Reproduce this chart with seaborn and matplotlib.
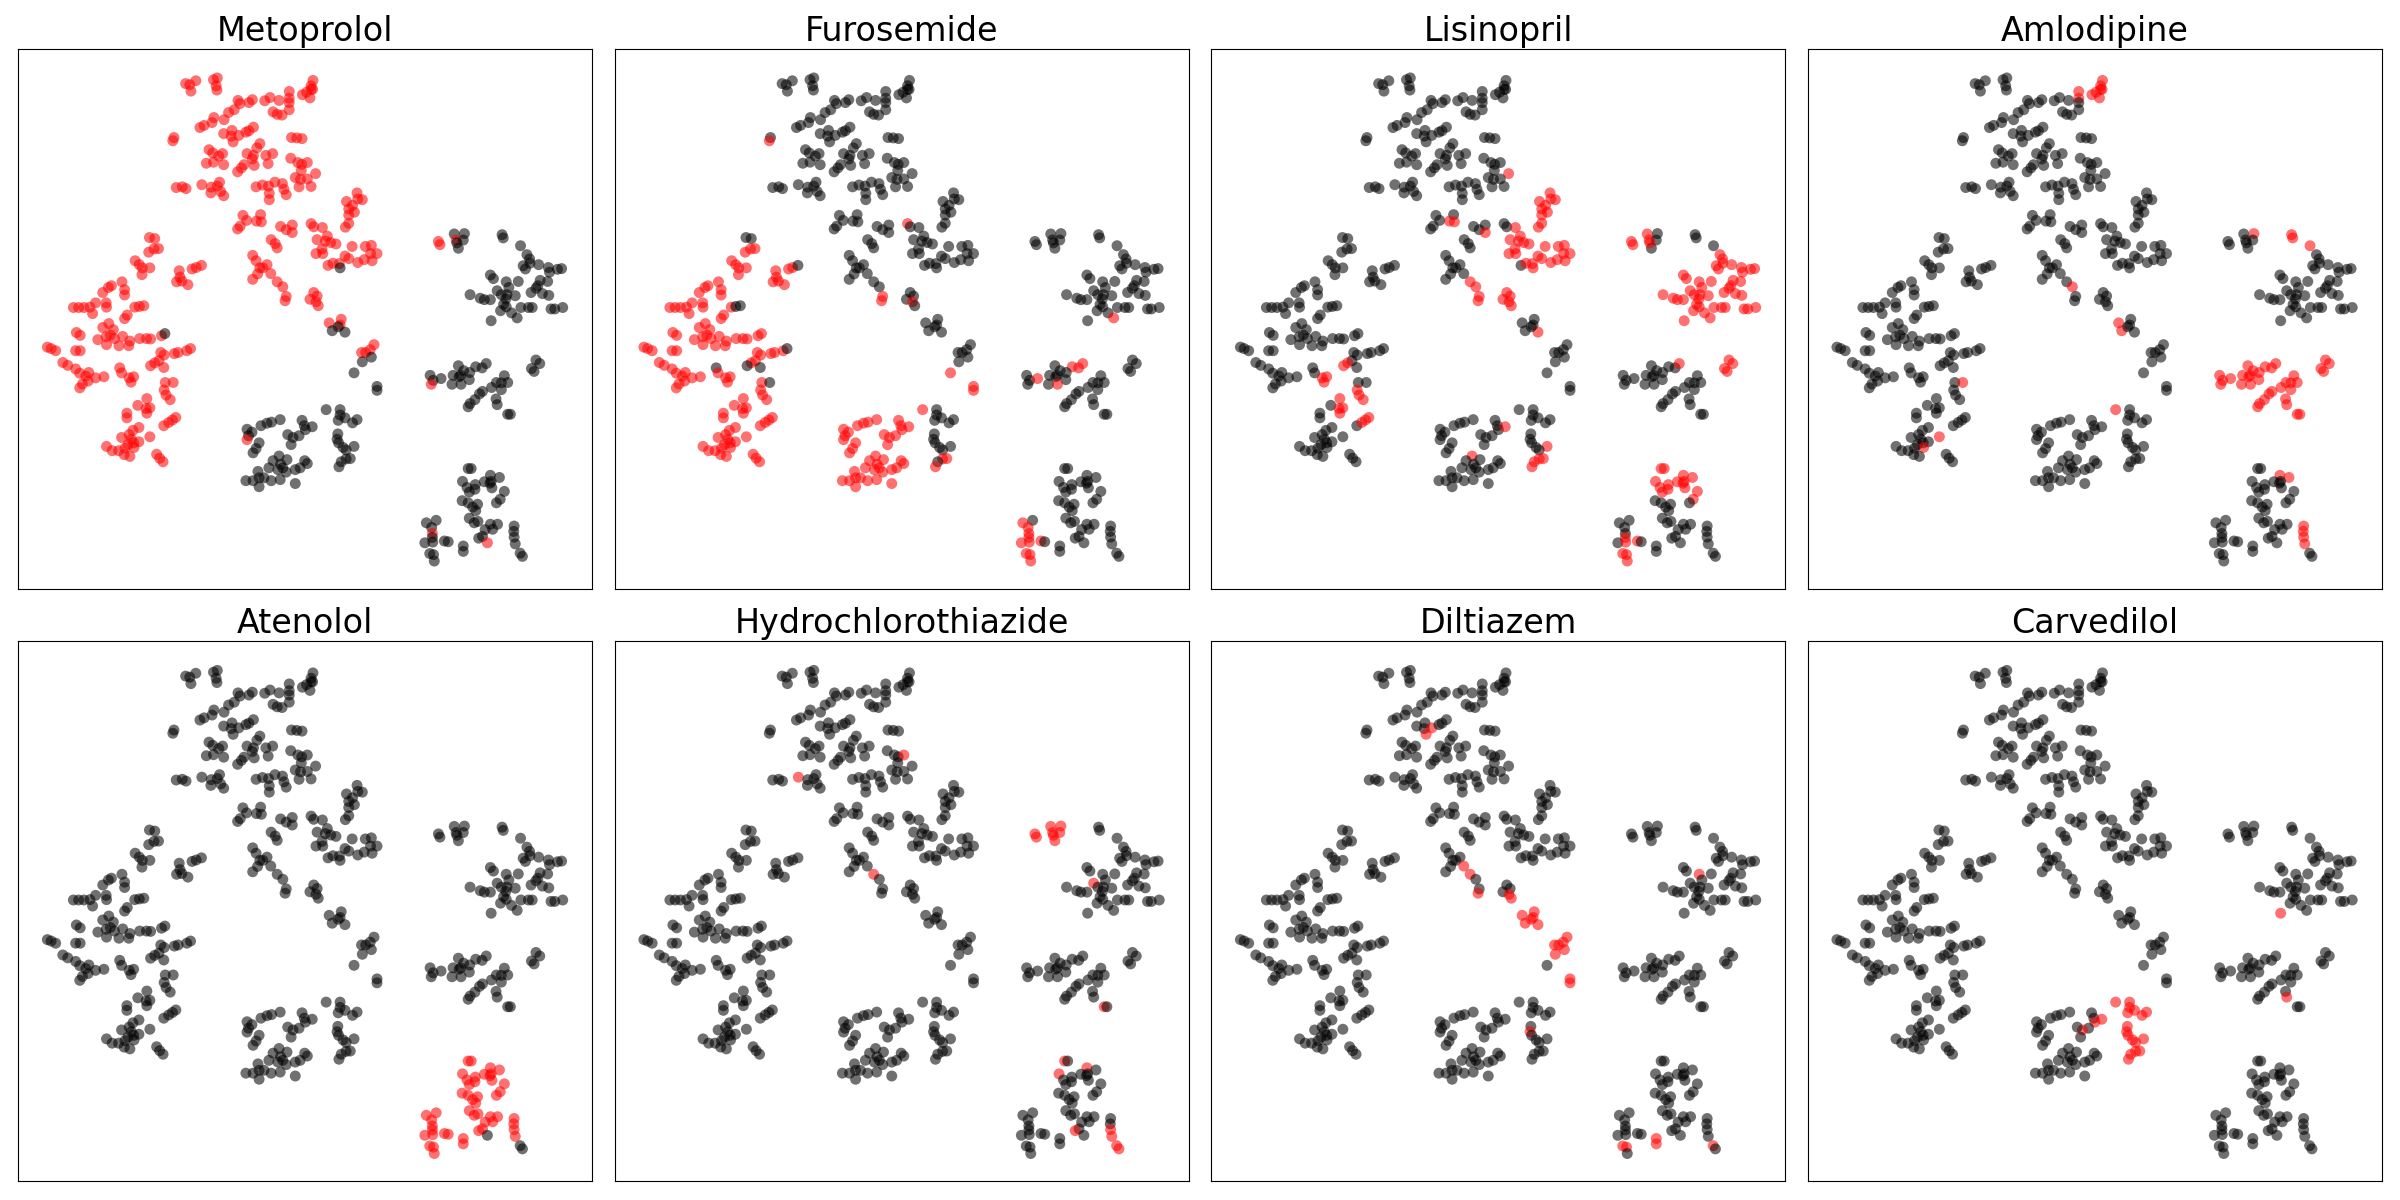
import matplotlib
matplotlib.use("Agg")
import matplotlib.pyplot as plt
import numpy as np
import pandas as pd
import seaborn as sns

drugs = ["Metoprolol", "Furosemide", "Lisinopril", "Amlodipine",
         "Atenolol", "Hydrochlorothiazide", "Diltiazem", "Carvedilol"]

cluster_a = [(460,124),(471,127),(487,116),(474,145),(534,113),(544,108),(541,130),(543,142),
 (599,171),(604,180),(628,177),(637,169),(670,172),(684,163),(708,171),(735,146),(735,165),(735,177),(735,197),(716,212),(703,210),(692,203),
 (770,155),(781,148),(793,140),(798,115),(793,130),(797,140),(790,164),
 (589,197),(574,205),(562,225),(535,219),(530,233),(509,241),(498,247),
 (561,264),(583,255),(581,271),(586,287),(601,269),(620,260),(628,256),(640,246),
 (429,275),(426,284),(741,275),(755,276),(769,278),
 (657,292),(649,304),(522,309),(532,318),(558,320),(548,327),(515,347),(534,344),(561,351),
 (623,320),(640,325),(637,335),(642,353),(673,325),(691,320),(679,348),(615,351),(608,360),(598,371),
 (739,333),(758,345),(768,350),(783,345),(767,367),(805,376),(783,391),(751,387),(765,392),(761,413),(793,412),
 (435,415),(451,413),(461,418),(503,407),(528,414),(550,400),(544,411),(527,430),(553,426),(561,438),
 (647,413),(664,408),(680,411),(697,400),(717,404),(721,420),(727,435),(682,431),(682,449)]

cluster_b = [(612,493),(622,507),(605,523),(598,531),(659,491),(648,509),(661,511),(712,524),(727,533),(743,520),(743,541),
 (793,516),(800,525),(823,527),(809,561),(836,551),(831,565),(845,569),(859,573),(902,580),(937,580),(953,577),(951,600),(968,600),(955,620),(934,617),(917,625),
 (806,600),(824,600),(822,587),(838,633),(851,627),(868,628),(870,640),(883,607),(893,614),
 (915,430),(929,449),(917,447),(887,454),(903,465),(893,475),(908,484),(893,492),(893,515),(884,526)]

cluster_c = [(687,561),(698,572),(703,584),(638,605),(647,620),(657,640),(665,640),(676,631),(651,657),(638,672),(686,656),(703,679),(718,693),
 (727,720),(724,732),(800,709),(809,719),(790,728),(806,735),(812,746),
 (841,794),(873,784),(870,800),(849,816),(883,820),(865,805),
 (960,855),(938,877),(927,877),(950,869),(953,890),(929,903),(907,934),(968,972),(968,983)]

cluster_d = [(364,555),(378,558),(388,586),(376,587),(362,596),(326,620),(337,631),(345,640),(365,640),(344,659),
 (443,648),(445,666),(436,679),(450,677),(466,687),(477,643),(488,639),(502,633),
 (291,679),(298,701),(298,716),(263,690),(255,695),(240,709),
 (221,738),(249,738),(250,750),(206,750),(190,751),(176,751),(162,751),(213,768),
 (325,750),(337,748),(349,746),(305,772),(298,782),
 (256,796),(240,807),(268,813),(170,821),(180,829),(227,841),(249,833),(260,828),(271,838),(250,855),(283,858),(293,832),(312,845),(309,858),(338,838),(356,838),(367,839),(396,830),(405,824),
 (93,862),(103,866),(115,872),(168,872),(180,872),
 (134,905),(147,913),(168,923),(179,935),(203,933),(195,943),(201,957),(186,965),(179,976),(221,948),(243,945),
 (285,920),(290,934),(322,945),(310,948),(315,960),
 (394,877),(403,884),(430,880),(440,877),(463,872),(473,866),(389,900),(378,906),(367,914),(402,919),
 (406,961),(427,961),(403,982),(408,996),(419,1009),
 (357,1006),(333,1025),(365,1032),(355,1034),(357,1047),(304,1047),(304,1060),
 (402,1082),(415,1073),(425,1066),(434,1059),
 (336,1087),(320,1095),(310,1107),(290,1115),(365,1113),(316,1120),(322,1130),(336,1127),(307,1135),(323,1143),
 (250,1140),(265,1152),(282,1152),(299,1145),(297,1163),(312,1168),(383,1162),(391,1173),(400,1183)]

cluster_e_left = [(623,1092),(636,1100),(627,1110),(623,1121),(660,1082),(676,1075),(688,1072),(711,1065),
 (769,1067),(775,1082),(778,1093),(796,1085),(761,1110),(745,1115),(731,1107),(740,1135),
 (655,1130),(647,1146),(639,1158),
 (708,1167),(692,1180),(729,1177),(681,1200),(712,1190),(705,1205),(718,1200),(727,1212),(751,1205),(764,1200),(776,1180),(783,1188),
 (652,1210),(620,1236),(639,1236),(655,1228),(668,1228),(655,1253),(687,1236),(711,1233),(751,1244),(833,1037)]

cluster_e_right = [(870,1037),(870,1052),(883,1060),(865,1067),(903,1074),(915,1065),
 (864,1105),(862,1120),(866,1130),(878,1143),(907,1140),(886,1150),(886,1175),(897,1174),(873,1183),(867,1197)]

cluster_f_top = [(1131,566),(1135,575),(1173,545),(1200,544),(1178,562),(1197,562),(1184,585),(1180,570)]

cluster_f_main = [(1300,547),(1303,556),(1349,578),(1366,603),(1373,615),(1374,627),(1356,634),(1362,643),(1397,631),(1423,639),(1426,652),(1447,644),(1458,642),
 (1269,660),(1277,670),(1311,679),(1343,678),(1318,695),(1287,704),(1298,715),(1313,715),(1310,727),(1335,718),(1401,675),(1421,678),(1395,690),(1390,697),(1377,709),(1407,712),(1424,717),
 (1215,715),(1242,725),(1253,729),(1269,729),
 (1304,742),(1311,749),(1296,760),(1325,766),(1340,780),(1350,751),(1370,751),(1380,751),(1430,755),(1440,755),(1461,751),(1271,788)]

cluster_g = [(1184,914),(1230,917),(1247,920),(1258,908),(1198,928),(1214,933),(1170,941),(1190,941),(1186,945),(1213,953),(1109,941),(1117,955),(1112,966),(1138,950),(1167,966),(1191,966),
 (1306,942),(1285,961),(1298,962),(1315,961),(1272,975),(1298,981),(1248,986),(1240,993),(1228,1009),(1215,1020),(1210,1029),(1284,1007),(1287,1023),(1315,1050),(1322,1050),
 (1390,898),(1400,908),(1378,922),(1385,930)]

cluster_h = [(1210,1202),(1218,1202),(1269,1221),(1293,1227),(1253,1239),(1271,1238),(1268,1243),(1195,1238),(1229,1247),(1207,1255),(1213,1268),(1228,1260),(1273,1256),(1306,1266),(1295,1288),(1285,1298),
 (1194,1292),(1210,1298),(1235,1302),(1222,1310),(1230,1320),
 (1213,1341),(1226,1354),(1236,1350),(1269,1358),(1288,1358),(1255,1373),(1275,1372),(1248,1392),(1238,1397),(1261,1410),
 (1332,1363),(1331,1378),(1332,1394),(1335,1413),(1348,1439),(1354,1448),
 (1099,1354),(1125,1347),(1113,1367),(1115,1384),(1115,1395),(1095,1410),(1116,1408),(1147,1405),(1157,1407),(1197,1419),(1197,1434),(1108,1440),(1118,1443),(1120,1461)]

all_points = (cluster_a + cluster_b + cluster_c + cluster_d + cluster_e_left + cluster_e_right
              + cluster_f_top + cluster_f_main + cluster_g + cluster_h)

metoprolol_not = [(870,640),(405,824),(849,816),(883,820),(865,805),(929,903),(953,890),(907,934),(968,972),(968,983)]
metoprolol_extra = [(623,1121),(1131,566),(1135,575),(1178,562),(1112,966),(1115,1384),(1261,1410)]
metoprolol = [p for p in cluster_a + cluster_b + cluster_c + cluster_d if p not in metoprolol_not] + metoprolol_extra

furosemide_not = [(364,555),(378,558),(502,633),(349,746),(337,748),(473,866),(285,920),(367,914),(402,919),(427,961)]
furosemide_extra = [(426,284),(793,516),(727,720),(724,732),(806,735),(907,934),(968,972),(968,983),(1340,780),
 (1230,917),(1247,920),(1258,908),(1138,950),(1191,966),(886,1175),(897,1174),(867,1197),
 (1099,1354),(1113,1367),(1115,1384),(1115,1395),(1095,1410),(1116,1408),(1147,1405),(1108,1440),(1118,1443),(1120,1461)]
furosemide = [p for p in cluster_d if p not in furosemide_not] + cluster_e_left + furosemide_extra

lisinopril_b = [p for p in cluster_b if p[0] > 805 and p != (838,633)] + [(648,509),(661,511),(743,541)]
lisinopril_f = [p for p in cluster_f_main if p not in [(1300,547),(1303,556),(1349,578)]] + [(1131,566),(1135,575),(1173,545),(1178,562),(1180,570)]
lisinopril_misc = [(805,376),(703,679),(718,693),(727,720),(724,732),(800,709),(809,719),(790,728),(806,735),(812,746),(883,820),
 (367,914),(378,906),(310,948),(322,945),(315,960),(403,982),(408,996),(419,1009),(357,1006),(365,1032),(355,1034),(357,1047),(415,1073),(425,1066),(434,1059),
 (796,1085),(708,1167),(907,1140),(897,1174),(886,1175),(873,1183),(867,1197),
 (1258,908),(1390,898),(1400,908),(1378,922),(1385,930),
 (1210,1202),(1218,1202),(1269,1221),(1293,1227),(1253,1239),(1271,1238),(1268,1243),(1195,1238),(1229,1247),(1207,1255),(1213,1268),(1228,1260),(1273,1256),(1306,1266),(1295,1288),
 (1115,1395),(1116,1408),(1147,1405),(1108,1440),(1118,1443),(1120,1461)]
lisinopril = lisinopril_b + lisinopril_f + lisinopril_misc

amlodipine = cluster_g + [(735,146),(735,165),(770,155),(781,148),(793,130),(798,115),(797,140),(790,164),(793,140),
 (718,693),(841,794),(849,816),(427,961),(365,1113),(323,1143),(833,1037),
 (1200,544),(1300,547),(1303,556),(1349,578),(1269,1221),(1293,1227),(1332,1363),(1331,1378),(1332,1394),(1335,1413)]

atenolol = [p for p in cluster_h if p not in [(1261,1410),(1348,1439),(1354,1448)]]

hydrochlorothiazide = cluster_f_top + [(783,345),(503,407),(703,679),(1287,704),(1315,1050),(1210,1202),(1269,1221),(1195,1238),
 (1238,1397),(1332,1394),(1335,1413),(1348,1439),(1354,1448)]

diltiazem = [(601,269),(586,287),(686,656),(703,679),(724,732),(806,735),(812,746),(841,794),(873,784),(870,800),(849,816),(883,820),(865,805),
 (960,855),(938,877),(927,877),(950,869),(953,890),(929,903),(968,972),(968,983),(862,1120),(1311,679),
 (1108,1440),(1118,1443),(1197,1419),(1197,1434),(1348,1439)]

carvedilol = cluster_e_right + [(833,1037),(778,1093),(796,1085),(745,1115),(1271,788),(1287,1023)]

highlighted = [metoprolol, furosemide, lisinopril, amlodipine, atenolol, hydrochlorothiazide, diltiazem, carvedilol]

sns.set_style("white", {"axes.edgecolor": "black", "text.color": "black", "font.family": "DejaVu Sans"})
plt.rcParams["font.family"] = ["DejaVu Sans"]
plt.rcParams["axes.linewidth"] = 0.8

xs = np.array([p[0] for p in all_points], float)
ys = np.array([p[1] for p in all_points], float)

fig, axes = plt.subplots(2, 4, figsize=(24, 12), dpi=100)
fig.subplots_adjust(left=18/2400, right=2382/2400, top=1-49/1200, bottom=1-1181/1200,
                    wspace=22/574, hspace=53/540)

for ax, drug, reds in zip(axes.flat, drugs, highlighted):
    red_set = set(reds)
    df = pd.DataFrame({"x": xs, "y": ys,
                       "group": ["red" if p in red_set else "other" for p in all_points]})
    sns.scatterplot(data=df, x="x", y="y", hue="group",
                    palette={"red": "red", "other": "black"},
                    s=62, alpha=0.56, edgecolor="none", linewidth=0, legend=False, ax=ax)
    ax.set_xlim(15, 1540)
    ax.set_ylim(1538, 27)
    ax.set_xticks([])
    ax.set_yticks([])
    ax.set_xlabel("")
    ax.set_ylabel("")
    ax.set_title(drug, fontsize=24, color="black")
    for s in ax.spines.values():
        s.set_visible(True)
        s.set_color("black")
        s.set_linewidth(0.8)

fig.savefig("out.png", dpi=100, facecolor="white")
